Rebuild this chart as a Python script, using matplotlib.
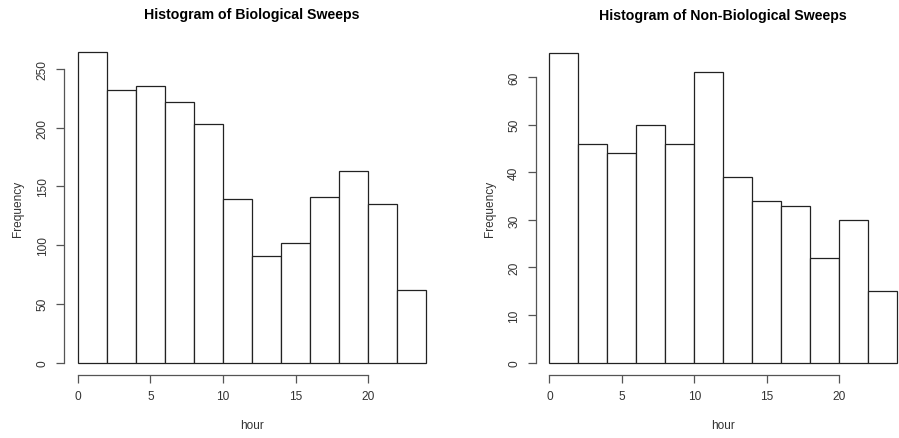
import matplotlib
matplotlib.use("Agg")
import matplotlib.pyplot as plt
import numpy as np

plt.rcParams['font.family'] = ['Liberation Sans', 'DejaVu Sans']

bin_edges = [0, 2, 4, 6, 8, 10, 12, 14, 16, 18, 20, 22, 24]
bio_counts = [264, 232, 235, 222, 203, 139, 91, 102, 141, 163, 135, 62]
nonbio_counts = [65, 46, 44, 50, 46, 61, 39, 34, 33, 22, 30, 15]
titles = ["Histogram of Biological Sweeps", "Histogram of Non-Biological Sweeps"]
x_ticks = [0, 5, 10, 15, 20]
bio_yticks = [0, 50, 100, 150, 200, 250]
nonbio_yticks = [0, 10, 20, 30, 40, 50, 60]

W, H = 899, 439
fig = plt.figure(figsize=(W / 100, H / 100), dpi=100)

def add_axes_px(x0, y0, x1, y1):
    return fig.add_axes([x0 / W, 1 - y1 / H, (x1 - x0) / W, (y1 - y0) / H])

def draw(ax, counts, yticks, title):
    edges = np.array(bin_edges)
    widths = np.diff(edges)
    ax.bar(edges[:-1], counts, width=widths, align='edge', facecolor='white',
           edgecolor='#222222', linewidth=0.9)
    x_ext = 0.04 * (edges[-1] - edges[0])
    ax.set_xlim(edges[0] - x_ext, edges[-1] + x_ext)
    ymax = max(counts)
    ax.set_ylim(-0.04 * ymax, ymax * 1.04)
    for s in ['top', 'right']:
        ax.spines[s].set_visible(False)
    ax.spines['left'].set_bounds(yticks[0], yticks[-1])
    ax.spines['bottom'].set_bounds(x_ticks[0], x_ticks[-1])
    for s in ['left', 'bottom']:
        ax.spines[s].set_color('#555555')
        ax.spines[s].set_linewidth(0.9)
    ax.set_xticks(x_ticks)
    ax.set_yticks(yticks)
    ax.tick_params(axis='both', length=6, width=0.9, color='#555555',
                   labelsize=8.6, labelcolor='#333333', pad=5)
    for lab in ax.get_yticklabels():
        lab.set_rotation(90)
        lab.set_va('center')
    ax.set_xlabel('hour', fontsize=8.6, color='#333333', labelpad=12)
    ax.set_ylabel('Frequency', fontsize=8.6, color='#333333', labelpad=9)
    ax.set_title(title, fontsize=10.2, fontweight='bold', pad=15.5)

ax1 = add_axes_px(64, 41, 440, 376)
draw(ax1, bio_counts, bio_yticks, titles[0])
ax2 = add_axes_px(535.5, 42, 911, 376)
draw(ax2, nonbio_counts, nonbio_yticks, titles[1])

fig.savefig('out.png', dpi=100)
